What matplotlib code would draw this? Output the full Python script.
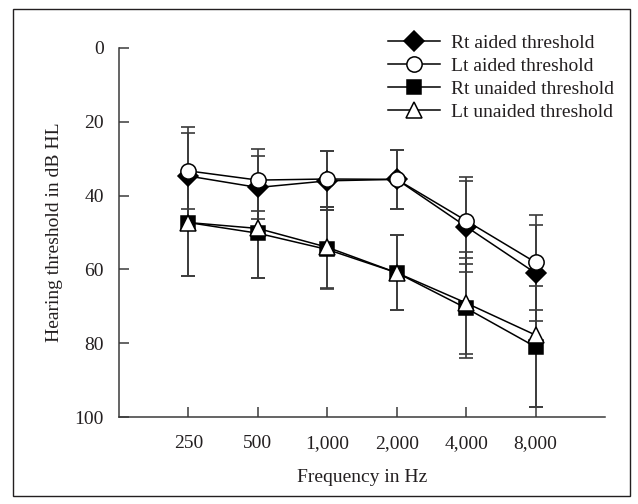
import matplotlib
matplotlib.use("Agg")
import matplotlib.pyplot as plt
from matplotlib.patches import Rectangle

plt.rcParams['font.family'] = ['Liberation Serif', 'DejaVu Serif']

frequencies = ["250", "500", "1,000", "2,000", "4,000", "8,000"]

rt_aided = [34.7, 37.8, 36.0, 35.6, 48.4, 61.0]
rt_aided_err = [13.4, 8.6, 8.0, 8.0, 12.4, 13.0]
lt_aided = [33.3, 35.8, 35.5, 35.6, 46.8, 58.1]
lt_aided_err = [10.3, 8.3, 7.5, 8.0, 11.8, 12.8]
rt_unaided = [47.3, 50.2, 54.6, 60.9, 70.5, 81.0]
rt_unaided_err = [14.5, 12.2, 10.8, 10.2, 13.5, 16.4]
lt_unaided = [47.3, 48.9, 54.0, 60.9, 69.1, 77.8]
lt_unaided_err = [14.5, 13.5, 11.0, 10.2, 13.8, 19.5]

labels = ["Rt aided threshold", "Lt aided threshold",
          "Rt unaided threshold", "Lt unaided threshold"]

txt = '#231f20'
FS = 14
W, H = 638, 504
fig = plt.figure(figsize=(W / 100, H / 100), dpi=100)
ax = fig.add_axes([119 / W, 1 - 417 / H, (605 - 119) / W, (417 - 48) / H])

x = list(range(len(frequencies)))
series = [
    (rt_unaided, rt_unaided_err, 's', 'black', 9.5, labels[2]),
    (lt_unaided, lt_unaided_err, '^', 'white', 11, labels[3]),
    (rt_aided, rt_aided_err, 'D', 'black', 10.5, labels[0]),
    (lt_aided, lt_aided_err, 'o', 'white', 11, labels[1]),
]
handles = {}
for vals, err, m, fc, ms, lab in series:
    ax.errorbar(x, vals, yerr=err, fmt='none', ecolor='#3a3a3a',
                elinewidth=1.2, capsize=5, capthick=1.2, zorder=2)
for vals, err, m, fc, ms, lab in series:
    h, = ax.plot(x, vals, color='black', lw=1.1, marker=m, ms=ms,
                 markerfacecolor=fc, markeredgecolor='black',
                 markeredgewidth=1.1, label=lab, zorder=3)
    handles[lab] = h

ax.set_xlim(-1, 6)
ax.set_ylim(100, 0)
ax.set_xticks(x)
ax.set_xticklabels(frequencies)
ax.set_yticks([0, 20, 40, 60, 80, 100])
for s in ['top', 'right']:
    ax.spines[s].set_visible(False)
for s in ['left', 'bottom']:
    ax.spines[s].set_color('#3a3a3a')
    ax.spines[s].set_linewidth(1.1)
ax.tick_params(axis='both', direction='in', length=7, width=1.1,
               color='#3a3a3a', labelsize=FS, labelcolor=txt)
ax.tick_params(axis='y', pad=11)
ax.tick_params(axis='x', pad=13)

ax.set_xlabel("Frequency in Hz", fontsize=FS, color=txt, labelpad=12)
ax.set_ylabel("Hearing threshold in dB HL", fontsize=FS, color=txt, labelpad=8)

leg = fig.legend([handles[l] for l in labels], labels, loc='upper left',
                 bbox_to_anchor=(388 / W, 1 - 34 / H), frameon=False,
                 fontsize=FS, handlelength=2.7, handletextpad=0.55,
                 labelspacing=0.28, borderpad=0, borderaxespad=0)
for t in leg.get_texts():
    t.set_color(txt)

fig.patches.append(Rectangle((13 / W, 1 - 496 / H), (630 - 13) / W, (496 - 9) / H,
                             transform=fig.transFigure, fill=False,
                             edgecolor=txt, lw=1.0))

fig.savefig("out.png", dpi=100)
